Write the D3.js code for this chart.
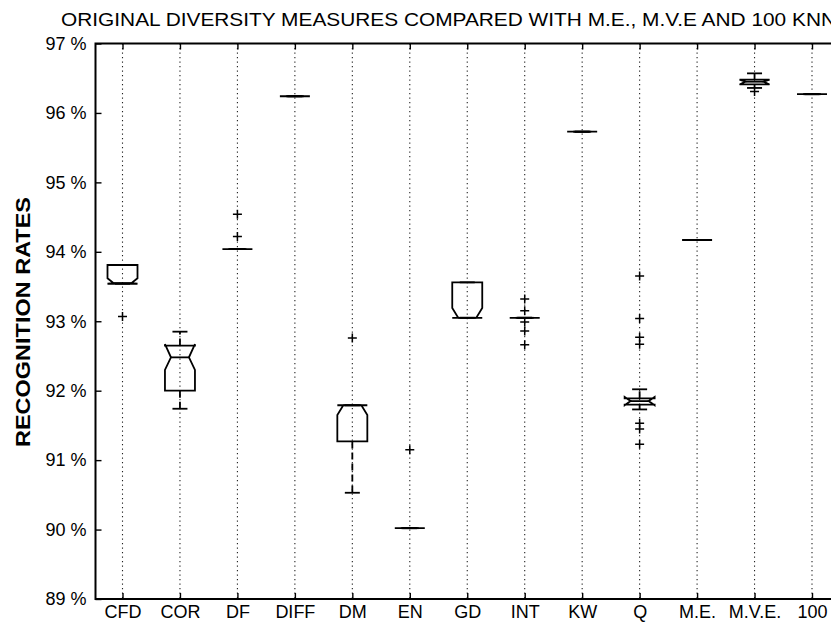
<!DOCTYPE html>
<html>
<head>
<meta charset="utf-8">
<script src="https://cdn.jsdelivr.net/npm/d3@7"></script>
<style>
  body { margin: 0; background: #fff; }
  svg { font-family: "Liberation Sans", Arial, sans-serif; }
  .axis text { font-size: 18px; fill: #000; }
  .axis line { stroke: #000; stroke-width: 1.4; }
</style>
</head>
<body>
<div id="chart"></div>
<script>
// Chart size
const W = 831, H = 625;
const margin = {top: 43.5, left: 95.5, bottom: 599};

// Categories and box statistics (recognition rate, %)
const categories = ["CFD", "COR", "DF", "DIFF", "DM", "EN", "GD", "INT", "KW", "Q", "M.E.", "M.V.E.", "100"];
const whiskerLo = [93.54, 91.74, 94.04, 96.24, 90.53, 90.02, 93.05, 93.05, 95.73, 91.73, 94.17, 96.36, 96.27];
const q1        = [93.54, 92.00, 94.04, 96.24, 91.27, 90.02, 93.05, 93.05, 95.73, 91.80, 94.17, 96.41, 96.27];
const notchLo   = [93.54, 92.30, 94.04, 96.24, 91.65, 90.02, 93.05, 93.05, 95.73, 91.79, 94.17, 96.41, 96.27];
const medians   = [93.55, 92.48, 94.04, 96.24, 91.79, 90.02, 93.05, 93.05, 95.73, 91.85, 94.17, 96.45, 96.27];
const notchHi   = [93.62, 92.67, 94.04, 96.24, 91.79, 90.02, 93.19, 93.05, 95.73, 91.91, 94.17, 96.48, 96.27];
const q3        = [93.81, 92.65, 94.04, 96.24, 91.79, 90.02, 93.56, 93.05, 95.73, 91.89, 94.17, 96.48, 96.27];
const whiskerHi = [93.81, 92.85, 94.04, 96.24, 91.79, 90.02, 93.56, 93.05, 95.73, 92.02, 94.17, 96.57, 96.27];
const outliers  = [
  [93.07], [], [94.22, 94.54], [], [92.76], [91.15], [],
  [93.32, 93.15, 92.99, 92.86, 92.66], [],
  [93.65, 93.04, 92.77, 92.67, 91.53, 91.45, 91.23],
  [], [96.31], []
];
const yTicks = [89, 90, 91, 92, 93, 94, 95, 96, 97];

const boxes = categories.map((c, i) => ({
  name: c, wLo: whiskerLo[i], q1: q1[i], nLo: notchLo[i], med: medians[i],
  nHi: notchHi[i], q3: q3[i], wHi: whiskerHi[i], out: outliers[i]
}));

const svg = d3.select("#chart").append("svg")
    .attr("width", W)
    .attr("height", H);

// Scales
const x = d3.scalePoint()
    .domain(categories)
    .range([122.5, 812]);
const y = d3.scaleLinear()
    .domain([89, 97])
    .range([margin.bottom, margin.top]);

// Dotted vertical grid
svg.append("g")
  .selectAll("line")
  .data(categories)
  .enter().append("line")
    .attr("x1", d => x(d)).attr("x2", d => x(d))
    .attr("y1", margin.top).attr("y2", margin.bottom)
    .attr("stroke", "#222")
    .attr("stroke-width", 1.1)
    .attr("stroke-dasharray", "1.3,3.2");

// Frame
svg.append("rect")
    .attr("x", margin.left).attr("y", margin.top)
    .attr("width", 760).attr("height", margin.bottom - margin.top)
    .attr("fill", "none")
    .attr("stroke", "#000")
    .attr("stroke-width", 2);

// Y axis
const yAxis = svg.append("g")
    .attr("class", "axis")
    .attr("transform", `translate(${margin.left},0)`)
    .call(d3.axisLeft(y).tickValues(yTicks).tickSize(-6).tickPadding(9).tickFormat(d => d + " %"));
yAxis.select(".domain").remove();

// Bottom axis
const xAxis = svg.append("g")
    .attr("class", "axis")
    .attr("transform", `translate(0,${margin.bottom})`)
    .call(d3.axisBottom(x).tickSize(-6).tickPadding(6));
xAxis.select(".domain").remove();

// Top axis ticks
const xTop = svg.append("g")
    .attr("class", "axis")
    .attr("transform", `translate(0,${margin.top})`)
    .call(d3.axisTop(x).tickSize(-6).tickFormat(""));
xTop.select(".domain").remove();

// Boxes
const bw = 30, inset = 6, capW = 15;
const g = svg.append("g").attr("fill", "none").attr("stroke", "#000").attr("stroke-width", 1.8);

const boxG = g.selectAll(".box")
  .data(boxes)
  .enter().append("g")
    .attr("class", "box");

// whiskers (dashed)
boxG.append("line")
    .attr("x1", d => x(d.name)).attr("x2", d => x(d.name))
    .attr("y1", d => y(d.q3)).attr("y2", d => y(d.wHi))
    .attr("stroke-dasharray", "7,4");
boxG.append("line")
    .attr("x1", d => x(d.name)).attr("x2", d => x(d.name))
    .attr("y1", d => y(d.q1)).attr("y2", d => y(d.wLo))
    .attr("stroke-dasharray", "7,4");

// caps
boxG.append("line")
    .attr("x1", d => x(d.name) - capW / 2).attr("x2", d => x(d.name) + capW / 2)
    .attr("y1", d => y(d.wHi)).attr("y2", d => y(d.wHi));
boxG.append("line")
    .attr("x1", d => x(d.name) - capW / 2).attr("x2", d => x(d.name) + capW / 2)
    .attr("y1", d => y(d.wLo)).attr("y2", d => y(d.wLo));

// notched box outline
boxG.append("path")
    .attr("d", d => {
      const l = x(d.name) - bw / 2, r = x(d.name) + bw / 2;
      const pts = [
        [l, y(d.q1)], [l, y(d.nLo)], [l + inset, y(d.med)], [l, y(d.nHi)], [l, y(d.q3)],
        [r, y(d.q3)], [r, y(d.nHi)], [r - inset, y(d.med)], [r, y(d.nLo)], [r, y(d.q1)]
      ];
      return d3.line()(pts) + "Z";
    });

// median
boxG.append("line")
    .attr("x1", d => x(d.name) - bw / 2 + inset).attr("x2", d => x(d.name) + bw / 2 - inset)
    .attr("y1", d => y(d.med)).attr("y2", d => y(d.med));

// outliers as "+"
boxG.each(function(d) {
  d3.select(this).selectAll(".out")
    .data(d.out)
    .enter().append("path")
      .attr("class", "out")
      .attr("stroke-width", 1.5)
      .attr("d", v => {
        const cx = x(d.name), cy = y(v);
        return `M${cx - 4.5},${cy}H${cx + 4.5}M${cx},${cy - 4.5}V${cy + 4.5}`;
      });
});

// Title
svg.append("text")
    .attr("x", 61)
    .attr("y", 26)
    .attr("font-size", 17.5)
    .attr("textLength", 775)
    .attr("lengthAdjust", "spacingAndGlyphs")
    .text("ORIGINAL DIVERSITY MEASURES COMPARED WITH M.E., M.V.E AND 100 KNN");

// Y label
svg.append("text")
    .attr("transform", `translate(30,322) rotate(-90)`)
    .attr("text-anchor", "middle")
    .attr("font-size", 20)
    .attr("font-weight", "bold")
    .attr("textLength", 250)
    .attr("lengthAdjust", "spacingAndGlyphs")
    .text("RECOGNITION RATES");
</script>
</body>
</html>
